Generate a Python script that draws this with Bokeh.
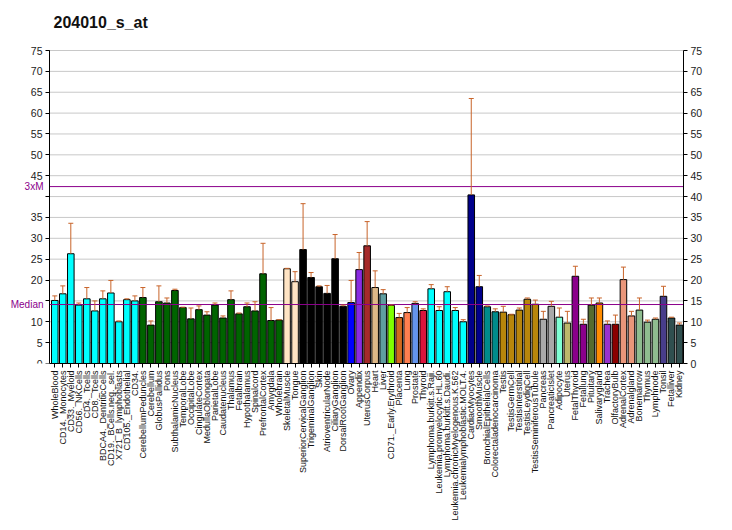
import math
from bokeh.plotting import figure
from bokeh.models import (Range1d, FixedTicker, LinearAxis, Whisker, TeeHead,
                          ColumnDataSource, Label)
from bokeh.embed import file_html
from bokeh.resources import INLINE

names = [
    "WholeBlood", "CD14._Monocytes", "CD33._Myeloid", "CD56._NKCells", "CD4._Tcells",
    "CD8._Tcells", "BDCA4._DentriticCells", "CD19._BCells.neg._sel.", "X721_B_lymphoblasts",
    "CD105._Endothelial", "CD34.", "CerebellumPeduncles", "Cerebellum", "GlobusPallidus",
    "Pons", "SubthalamicNucleus", "TemporalLobe", "OccipitalLobe", "CingulateCortex",
    "MedullaOblongata", "ParietalLobe", "Caudatenucleus", "Thalamus", "Fetalbrain",
    "Hypothalamus", "Spinalcord", "PrefrontalCortex", "Amygdala", "Wholebrain",
    "SkeletalMuscle", "Tongue", "SuperiorCervicalGanglion", "TrigeminalGanglion", "Skin",
    "AtrioventricularNode", "CiliaryGanglion", "DorsalRootGanglion", "Ovary", "Appendix",
    "UterusCorpus", "Heart", "Liver", "CD71._Early.Erythroid", "Placenta", "Lung",
    "Prostate", "Thyroid", "Lymphoma.burkitt.s.Raji.", "Leukemia.promyelocytic.HL.60",
    "Lymphoma.burkitt.s.Daudi.", "Leukemia.chronicMyelogenous.K.562",
    "Leukemialymphoblastic.MOLT.4.", "CardiacMyocytes", "SmoothMuscle",
    "BronchialEpithelialCells", "Colorectaladenocarcinoma", "Testis", "TestisGermCell",
    "TestisInterstitial", "TestisLeydigCell", "TestisSeminiferousTubule", "Pancreas",
    "PancreaticIslet", "Adipocyte", "Uterus", "FetalThyroid", "Fetallung", "Pituitary",
    "Salivarygland", "Trachea", "OlfactoryBulb", "AdrenalCortex", "Adrenalgland",
    "Bonemarrow", "Thymus", "Lymphnode", "Tonsil", "Fetalliver", "Kidney",
]

values = [
    15.1, 16.7, 26.3, 14.0, 15.5, 12.6, 15.5, 16.9, 10.0, 15.3, 15.0,
    15.8, 9.2, 14.8, 14.5, 17.5, 13.4, 10.7, 12.9, 11.6, 14.0, 10.9, 15.3, 11.9,
    13.6, 12.6, 21.5, 10.3, 10.4,
    22.7, 19.6, 27.3, 20.6, 18.4, 16.8, 25.1, 13.7, 14.6, 22.5, 28.2, 18.2, 16.7,
    13.9, 11.0, 12.2, 14.4, 12.7, 17.9, 12.7, 17.2, 12.7, 10.0, 40.4, 18.4,
    13.6, 12.4, 12.3, 11.7, 12.8, 15.4, 14.2, 10.6, 13.7, 11.1, 9.7, 20.9, 9.4,
    14.0, 14.5, 9.4, 9.4, 20.1, 11.4, 12.8, 9.9, 10.6, 16.1, 10.9, 9.2,
]

upper = [
    16.2, 18.6, 33.6, 14.5, 18.2, 15.0, 17.4, 19.9, 10.2, 15.5, 16.2,
    18.2, 10.2, 18.6, 15.7, 17.8, 13.5, 13.3, 13.8, 12.4, 14.5, 11.4, 17.4, 12.1,
    14.5, 14.8, 28.8, 13.4, 10.5,
    22.8, 22.0, 38.3, 21.8, 18.6, 18.7, 30.9, 14.0, 19.9, 26.6, 34.0, 22.2, 17.7,
    14.0, 12.0, 13.4, 14.8, 13.1, 18.9, 13.6, 18.4, 13.4, 10.5, 63.5, 21.1,
    13.8, 13.1, 13.7, 11.8, 13.3, 15.7, 15.2, 12.5, 14.9, 13.3, 12.5, 23.3, 10.6,
    15.7, 15.7, 10.2, 11.6, 23.1, 12.5, 15.7, 10.4, 10.9, 18.5, 11.1, 9.7,
]

colors = (
    ["#00FFFF"] * 11 + ["#006400"] * 18 + ["#FFE4C4"] * 2 + ["#000000"] * 6 +
    ["#0000FF", "#8A2BE2", "#A52A2A", "#DEB887", "#5F9EA0", "#7FFF00", "#D2691E",
     "#FF7F50", "#6495ED", "#DC143C"] +
    ["#00FFFF"] * 5 + ["#00008B"] * 2 + ["#008B8B"] * 2 + ["#B8860B"] * 5 +
    ["#A9A9A9"] * 2 + ["#7FFFD4", "#BDB76B"] + ["#8B008B"] * 2 +
    ["#556B2F", "#FF8C00", "#9932CC", "#8B0000"] + ["#E9967A"] * 2 +
    ["#8FBC8F"] * 3 + ["#483D8B"] + ["#2F4F4F"] * 2
)

title_text = "204010_s_at"
median = 14.13
ref_lines = [median, 3 * median]
ref_labels = ["Median", "3xM"]
y_ticks = list(range(0, 80, 5))
Y_MAX = 75

xs = list(range(1, len(names) + 1))
src = ColumnDataSource(dict(x=xs, val=values, up=upper, color=colors))

FONT = "Liberation Sans"
PURPLE = "#8B008B"
ERR = "#C8642A"

# plotting area geometry (pixels): left 49, right 683, top 50, bottom 363
W, H = 732, 530
PL, PR, PT, PB = 49, 683, 50, 363
X0, X1 = 0.34, 79.5
# the frame is widened to the left / top canvas edges so that the texts outside
# the plotting area are not clipped
XL = X0 - (X1 - X0) * PL / (PR - PL)
YT = Y_MAX * PB / (PB - PT)
px_y = Y_MAX / (PB - PT)

p = figure(width=W, height=H, output_backend="svg", toolbar_location=None,
           title=None, x_range=Range1d(XL, X1), y_range=Range1d(0, YT),
           min_border_left=0, min_border_right=W - PR, min_border_top=0,
           min_border_bottom=H - PB, outline_line_color=None)

p.xgrid.visible = False
p.ygrid.visible = False

# horizontal grid lines, limited to the plotting area
p.segment(x0=X0, x1=X1, y0=y_ticks[1:], y1=y_ticks[1:], line_color="#C8C8C8",
          line_width=1)

p.vbar(x="x", top="val", bottom=0, width=0.82, fill_color="color",
       line_color="black", line_width=1, source=src)

wh = Whisker(source=src, base="x", lower="val", upper="up", line_color=ERR,
             line_width=1, upper_head=TeeHead(size=5, line_color=ERR), lower_head=None,
             level="overlay")
p.add_layout(wh)

p.segment(x0=X0, x1=X1, y0=ref_lines, y1=ref_lines, line_color=PURPLE, line_width=1)

# left axis line (plotting area edge)
p.segment(x0=X0, x1=X0, y0=0, y1=Y_MAX, line_color="black", line_width=1)

for loc, txt in zip(ref_lines, ref_labels):
    p.add_layout(Label(x=X0, y=loc, text=txt, x_offset=-6, text_align="right",
                       text_baseline="middle", text_color=PURPLE, text_font=FONT,
                       text_font_size="10px"))

# chart title
p.add_layout(Label(x=X0, y=Y_MAX + (PT - 22) * px_y, x_offset=4, text=title_text,
                   text_align="left", text_baseline="middle", text_color="#111111",
                   text_font=FONT, text_font_size="16px", text_font_style="bold"))

# left axis drawn at the left edge of the plotting area
ya = p.yaxis[0]
ya.fixed_location = X0
ya.bounds = (0, Y_MAX)
ya.ticker = FixedTicker(ticks=y_ticks)
ya.major_label_overrides = {15: "", 40: ""}
ry = LinearAxis(ticker=FixedTicker(ticks=y_ticks), bounds=(0, Y_MAX))
p.add_layout(ry, "right")
for ax in (ya, ry):
    ax.major_tick_in = 0
    ax.major_tick_out = 4
    ax.minor_tick_line_color = None
    ax.axis_line_color = "black"
    ax.major_label_text_font = FONT
    ax.major_label_text_font_size = "10.5px"
    ax.major_label_text_color = "#222222"
    ax.major_label_standoff = 3

xa = p.xaxis[0]
xa.bounds = (X0, X1)
xa.ticker = FixedTicker(ticks=xs)
xa.major_label_overrides = {i: n for i, n in zip(xs, names)}
xa.major_label_orientation = math.pi / 2
xa.major_tick_in = 0
xa.major_tick_out = 4
xa.minor_tick_line_color = None
xa.axis_line_color = "black"
xa.major_label_text_font = FONT
xa.major_label_text_font_size = "9px"
xa.major_label_text_color = "#111111"
xa.major_label_standoff = 3

open("out.html", "w").write(file_html(p, INLINE))
